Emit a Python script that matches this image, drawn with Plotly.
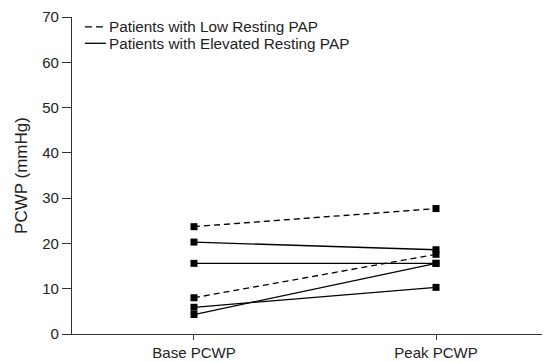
import plotly.graph_objects as go

categories = ["Base PCWP", "Peak PCWP"]
x_pos = [0, 1]

low_pap_series = [
    [23.7, 27.7],
    [8.0, 17.6],
]
elevated_pap_series = [
    [20.3, 18.6],
    [15.6, 15.6],
    [5.9, 10.3],
    [4.3, 15.6],
]
y_ticks = [0, 10, 20, 30, 40, 50, 60, 70]

LOW_NAME = "Patients with Low Resting PAP"
ELEV_NAME = "Patients with Elevated Resting PAP"

fig = go.Figure()

for vals in low_pap_series:
    fig.add_trace(go.Scatter(
        x=x_pos, y=vals, mode="lines+markers",
        line=dict(color="black", width=1.3, dash="6px,4px"),
        marker=dict(symbol="square", size=7, color="black"),
        name=LOW_NAME, showlegend=False,
    ))
for vals in elevated_pap_series:
    fig.add_trace(go.Scatter(
        x=x_pos, y=vals, mode="lines+markers",
        line=dict(color="black", width=1.3),
        marker=dict(symbol="square", size=7, color="black"),
        name=ELEV_NAME, showlegend=False,
    ))

# legend drawn as keys + labels in paper coordinates (top-left of the plot)
legend_rows = [
    (LOW_NAME, 0.969, "7px,4px", 0.069),
    (ELEV_NAME, 0.917, "solid", 0.071),
]
for label, ypos, dash, x_end in legend_rows:
    fig.add_shape(type="line", xref="paper", yref="paper",
                  x0=0.027, x1=x_end, y0=ypos, y1=ypos,
                  line=dict(color="black", width=1.3, dash=dash))
    fig.add_annotation(text=label, xref="paper", yref="paper",
                       x=0.074, y=ypos, xanchor="left", yanchor="middle",
                       showarrow=False, font=dict(size=15.3, color="#222"))

fig.update_layout(
    width=542, height=354,
    margin=dict(l=64, r=0, t=6, b=28),
    paper_bgcolor="white", plot_bgcolor="white",
    font=dict(family="Liberation Sans, Arial, sans-serif", size=15, color="#222"),
    showlegend=False,
    xaxis=dict(range=[-0.504, 1.471], tickvals=x_pos, ticktext=categories,
               showline=True, linecolor="#333", linewidth=1.2,
               ticks="outside", ticklen=5, tickcolor="#333",
               showgrid=False, zeroline=False),
    yaxis=dict(range=[0, 70], tickvals=y_ticks,
               showline=True, linecolor="#333", linewidth=1.2,
               ticks="outside", ticklen=9, tickcolor="#333",
               ticklabeloverflow="allow",
               showgrid=False, zeroline=False,
               title=dict(text="PCWP (mmHg)", font=dict(size=17), standoff=10)),
)

fig.write_html("out.html")
